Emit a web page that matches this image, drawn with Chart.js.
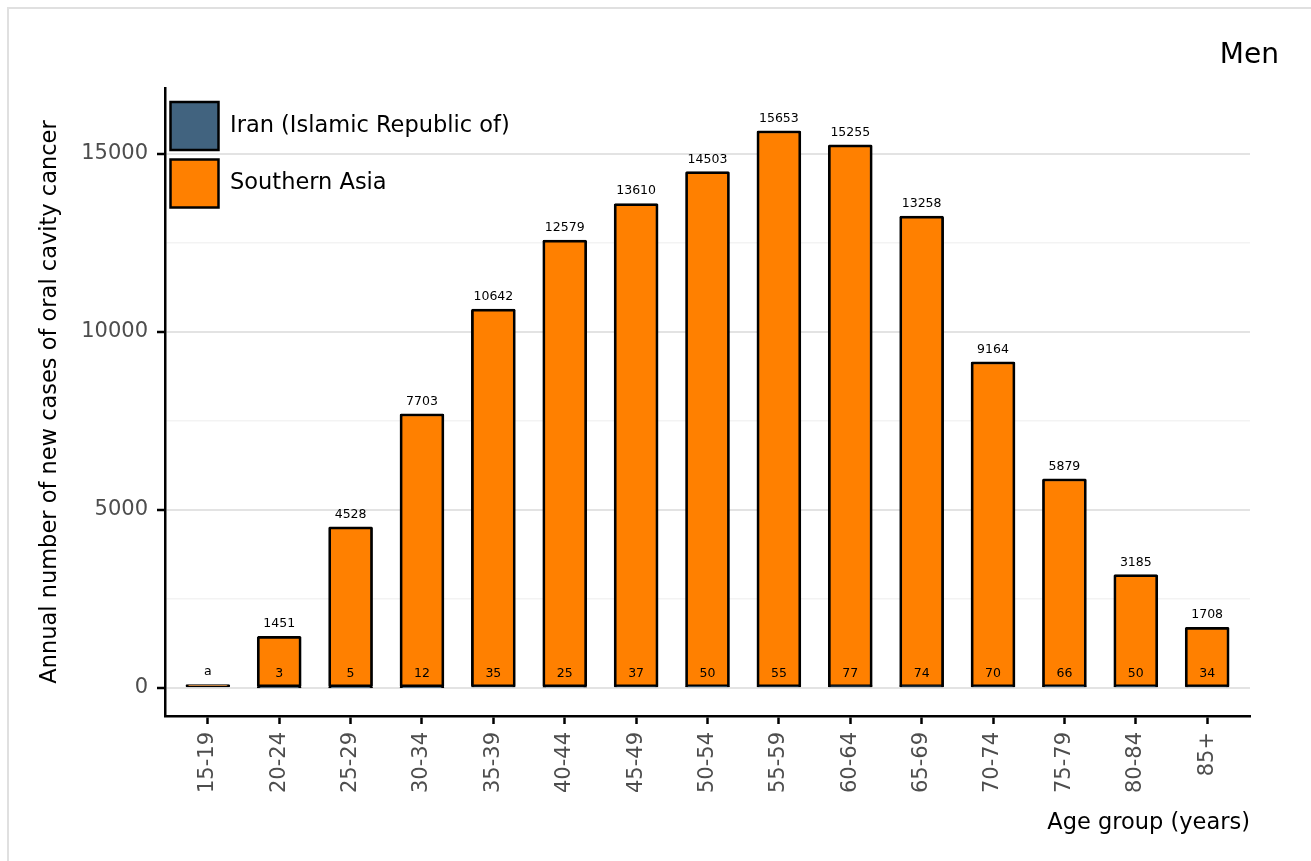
<!DOCTYPE html>
<html><head><meta charset="utf-8">
<script src="https://cdn.jsdelivr.net/npm/chart.js@4.4.1/dist/chart.umd.min.js"></script>
<style>
html,body{margin:0;padding:0;background:#fff;overflow:hidden;}
#frame{position:absolute;left:7px;top:7px;width:1400px;height:1000px;border:2px solid #e0e0e0;}
#wrap{position:absolute;left:0;top:0;width:1311px;height:861px;}
</style></head><body>
<div id="frame"></div>
<div id="wrap"><canvas id="c" width="1311" height="861"></canvas></div>
<script>
// ---- data ----
const ageGroups = ['15-19','20-24','25-29','30-34','35-39','40-44','45-49','50-54','55-59','60-64','65-69','70-74','75-79','80-84','85+'];
const southernAsia = [100, 1451, 4528, 7703, 10642, 12579, 13610, 14503, 15653, 15255, 13258, 9164, 5879, 3185, 1708];
const southernAsiaLabels = ['a','1451','4528','7703','10642','12579','13610','14503','15653','15255','13258','9164','5879','3185','1708'];
const iran = [null, 3, 5, 12, 35, 25, 37, 50, 55, 77, 74, 70, 66, 50, 34];
const iranLabels = ['', '3', '5', '12', '35', '25', '37', '50', '55', '77', '74', '70', '66', '50', '34'];
const seriesNames = ['Iran (Islamic Republic of)', 'Southern Asia'];
const yTicks = [0, 2500, 5000, 7500, 10000, 12500, 15000];
const yLabelledTicks = [0, 5000, 10000, 15000];

const FONT = "'DejaVu Sans', sans-serif";

const labelPlugin = {
  id: 'barLabels',
  afterDatasetsDraw(chart) {
    const ctx = chart.ctx;
    const y0 = chart.scales.y.getPixelForValue(0);
    const saMeta = chart.getDatasetMeta(1);
    ctx.save();
    ctx.font = "12.5px " + FONT;
    ctx.fillStyle = '#000';
    ctx.textAlign = 'center';
    ctx.textBaseline = 'alphabetic';
    saMeta.data.forEach((bar, i) => {
      const t = southernAsiaLabels[i];
      if (t) ctx.fillText(t, bar.x, bar.y - 9);
    });
    iranLabels.forEach((t, i) => {
      if (!t) return;
      ctx.fillText(t, saMeta.data[i].x, y0 - 11);
    });
    ctx.restore();
  }
};

const legendPlugin = {
  id: 'cornerLegend',
  afterDraw(chart) {
    const ctx = chart.ctx;
    const a = chart.chartArea;
    ctx.save();
    chart.data.datasets.forEach((ds, i) => {
      const bx = a.left + 5.5, by = a.top + 14 + i * 57.5, s = 48;
      ctx.fillStyle = ds.backgroundColor;
      ctx.fillRect(bx, by, s, s);
      ctx.lineWidth = 2.5;
      ctx.strokeStyle = '#000';
      ctx.strokeRect(bx, by, s, s);
      ctx.fillStyle = '#000';
      ctx.font = "22.5px " + FONT;
      ctx.textAlign = 'left';
      ctx.textBaseline = 'middle';
      ctx.fillText(ds.label, a.left + 65, by + s / 2);
    });
    // panel label
    ctx.font = "28px " + FONT;
    ctx.textAlign = 'right';
    ctx.textBaseline = 'alphabetic';
    ctx.fillText('Men', chart.width - 32, 63);
    ctx.restore();
  }
};

const isMajor = c => c.tick && yLabelledTicks.includes(c.tick.value);

new Chart(document.getElementById('c'), {
  type: 'bar',
  data: {
    datasets: [
      {
        label: seriesNames[0],
        data: ageGroups.map((g, i) => ({ x: i, y: iran[i] })),
        backgroundColor: '#41637f',
        borderColor: '#000',
        borderWidth: 2.75,
        borderSkipped: false,
        borderRadius: 1.5,
        grouped: false,
        barThickness: 44
      },
      {
        label: seriesNames[1],
        data: ageGroups.map((g, i) => ({ x: i, y: southernAsia[i] })),
        backgroundColor: '#ff8000',
        borderColor: '#000',
        borderWidth: 2.75,
        borderSkipped: false,
        borderRadius: 1.5,
        grouped: false,
        barThickness: 44
      }
    ]
  },
  options: {
    responsive: false,
    animation: false,
    devicePixelRatio: 1,
    layout: { padding: { left: 0, right: 61, top: 88, bottom: 0 } },
    plugins: { legend: { display: false }, title: { display: false }, tooltip: { enabled: false } },
    scales: {
      x: {
        type: 'linear',
        min: -0.6, max: 14.6,
        offset: false,
        afterFit(s) { s.height = 145; },
        afterBuildTicks(s) { s.ticks = ageGroups.map((g, i) => ({ value: i })); },
        ticks: {
          autoSkip: false,
          minRotation: 90, maxRotation: 90, padding: 8,
          color: '#4d4d4d', font: { family: FONT, size: 21 },
          callback: v => ageGroups[v]
        },
        grid: { display: true, offset: false, drawOnChartArea: false, tickLength: 8, tickWidth: 2.5, tickColor: '#000' },
        border: { display: true, color: '#000', width: 2.5 },
        title: { display: true, text: 'Age group (years)', align: 'end', color: '#000',
                 font: { family: FONT, size: 22.5 }, padding: { top: 0, bottom: 24 } }
      },
      y: {
        min: -786, max: 16854,
        afterFit(s) { s.width = 165; },
        afterBuildTicks(s) { s.ticks = yTicks.map(v => ({ value: v })); },
        ticks: {
          autoSkip: false, padding: 9,
          color: '#4d4d4d', font: { family: FONT, size: 21 },
          callback: v => (yLabelledTicks.includes(v) ? String(v) : '')
        },
        grid: {
          color: c => isMajor(c) ? '#e3e3e3' : '#f3f3f3',
          lineWidth: c => isMajor(c) ? 2 : 1.5,
          tickLength: 8, tickWidth: 2.5,
          tickColor: c => isMajor(c) ? '#000' : 'rgba(0,0,0,0)'
        },
        border: { display: true, color: '#000', width: 2.5 },
        title: { display: true, text: 'Annual number of new cases of oral cavity cancer', color: '#000',
                 font: { family: FONT, size: 22.5 }, padding: { top: 37, bottom: 0 } }
      }
    }
  },
  plugins: [labelPlugin, legendPlugin]
});
</script>
</body></html>
